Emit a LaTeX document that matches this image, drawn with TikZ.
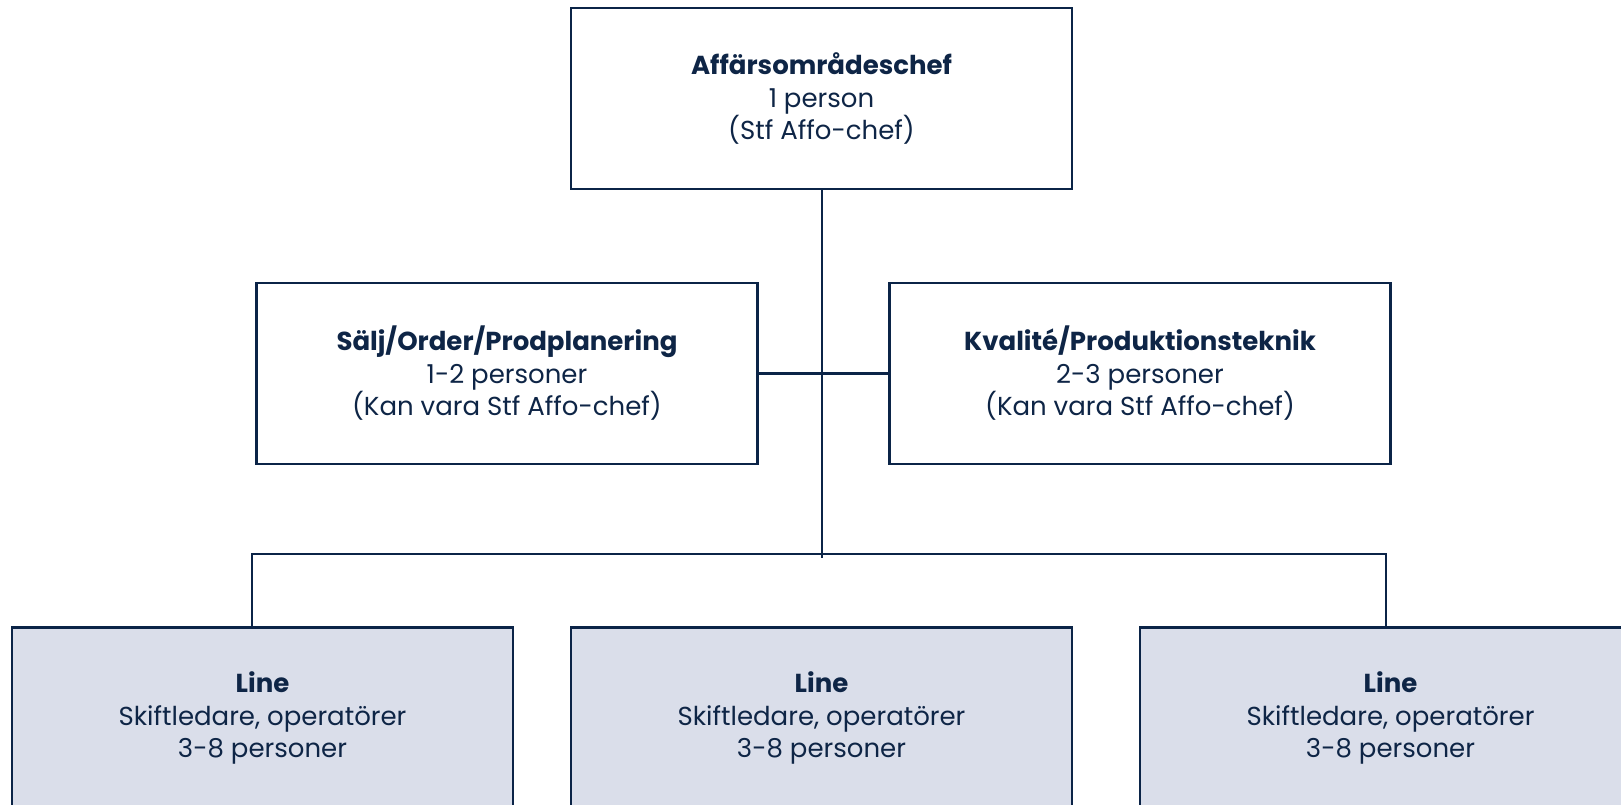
\documentclass[tikz,border=0pt]{standalone}
\usepackage{fontspec}
\setmainfont{Poppins}
\definecolor{navy}{HTML}{0B2447}
\definecolor{txt}{HTML}{0E2546}
\definecolor{boxfill}{HTML}{DADEEA}
\begin{document}
\begin{tikzpicture}[x=1pt,y=-1pt,
  orgbox/.style={draw=navy, line width=2.6pt, fill=white, minimum width=501pt, minimum height=181pt,
    text=txt, align=center, inner sep=0pt, font=\fontsize{26}{32.5}\selectfont},
  linebox/.style={orgbox, fill=boxfill},
  conn/.style={draw=navy, line width=2.6pt}]
\useasboundingbox (0,0) rectangle (1621,804);
\clip (0,0) rectangle (1621,804);
\fill[white] (0,0) rectangle (1621,804);
\node[orgbox] (top) at (821.5,98.5) {\textbf{Affärsområdeschef}\\1 person\\(Stf Affo-chef)};
\node[orgbox] (sales) at (507,373.5) {\textbf{Sälj/Order/Prodplanering}\\1-2 personer\\(Kan vara Stf Affo-chef)};
\node[orgbox] (qual) at (1140,373.5) {\textbf{Kvalité/Produktionsteknik}\\2-3 personer\\(Kan vara Stf Affo-chef)};
\node[linebox] (line1) at (262.5,718) {\textbf{Line}\\Skiftledare, operatörer\\3-8 personer};
\node[linebox] (line2) at (821.5,718) {\textbf{Line}\\Skiftledare, operatörer\\3-8 personer};
\node[linebox] (line3) at (1390.5,718) {\textbf{Line}\\Skiftledare, operatörer\\3-8 personer};
\coordinate (stem) at (822,558);
\coordinate (dl) at (252,554);
\coordinate (dr) at (1386,554);
\draw[conn] (top.south -| stem) -- (stem);
\draw[conn] (sales.east) -- (qual.west);
\draw[conn] (dl |- line1.north) -- (dl) -- (dr) -- (dr |- line3.north);
\end{tikzpicture}
\end{document}
